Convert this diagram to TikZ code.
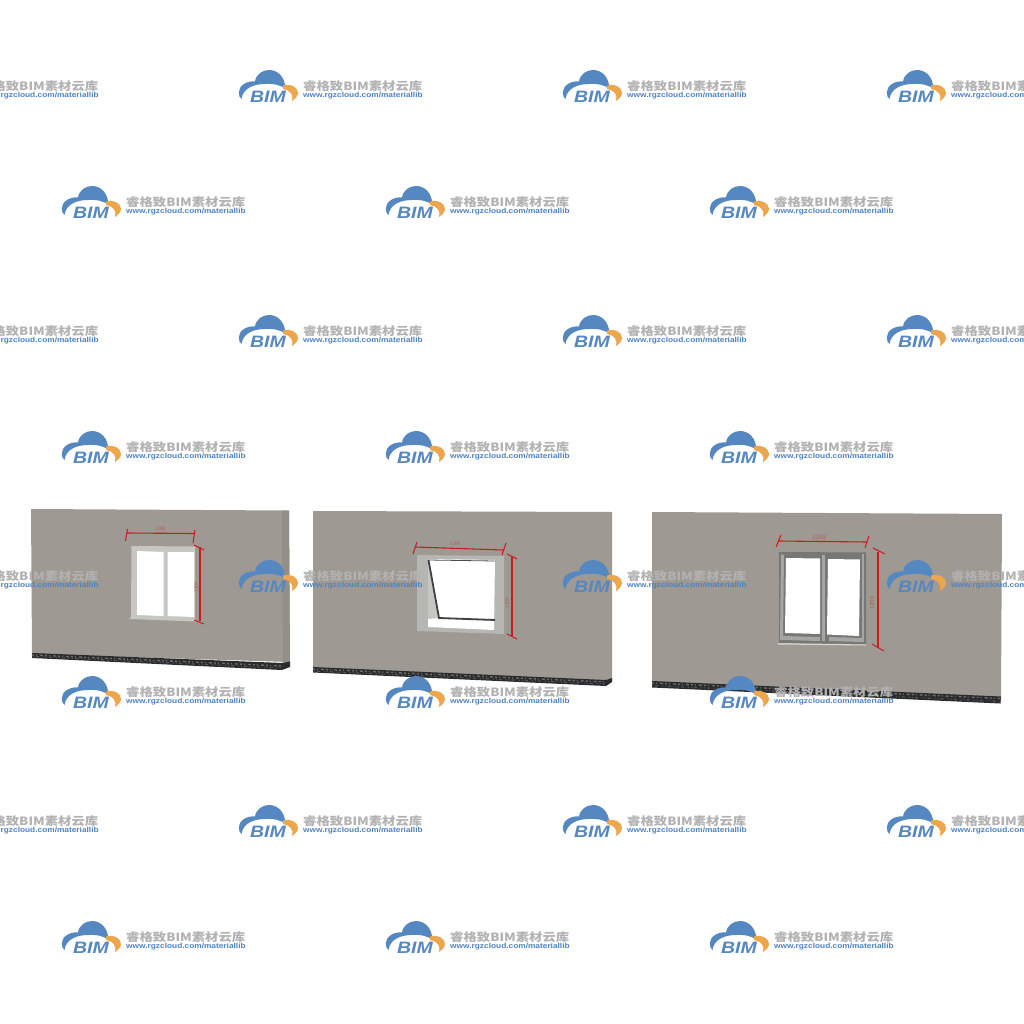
\documentclass[tikz,border=0pt]{standalone}
\usepackage{fontspec}
\setmainfont{Liberation Sans}
\newfontfamily\cjkfont{Noto Sans CJK SC}
\newfontfamily\dimfont{Liberation Serif}
\usetikzlibrary{calc}
\definecolor{wallc}{HTML}{9E9992}
\definecolor{wallside}{HTML}{938E87}
\definecolor{bandc}{HTML}{2A2B2D}
\definecolor{bandl}{HTML}{6A6A6A}
\definecolor{dimred}{HTML}{CC1A1E}
\definecolor{dimtxt}{HTML}{B25A58}
\definecolor{wmblue}{HTML}{5587C0}
\definecolor{wmorange}{HTML}{EBA64E}
\definecolor{wmgray}{HTML}{B2B2B2}
\definecolor{urlblue}{HTML}{4F82C0}
\definecolor{frameone}{HTML}{C6C6C2}
\definecolor{frametwo}{HTML}{B6B6B2}
\definecolor{metal}{HTML}{777775}
\definecolor{metallight}{HTML}{A6A6A4}
\tikzset{
  wall/.style={fill=wallc,draw=none},
  wallend/.style={fill=wallside,draw=none},
  bandfill/.style={fill=bandc,draw=none},
  bandtex/.style={draw=bandl,line width=1.4pt,dash pattern=on 2pt off 2pt on 1pt off 3pt on 3pt off 2pt},
  bandtextwo/.style={draw=bandl!80!black,line width=1.2pt,dash pattern=on 1pt off 2pt on 3pt off 4pt on 1pt off 2pt},
  glass/.style={fill=white,draw=none},
  dimline/.style={draw=dimred,line width=1.1pt},
  dimtick/.style={draw=dimred,line width=1pt},
  dimlabel/.style={text=dimtxt,font=\dimfont\fontsize{5.4}{5.4}\selectfont,inner sep=0pt},
  dimlabelbig/.style={text=dimtxt,font=\dimfont\fontsize{6.6}{6.6}\selectfont,inner sep=0pt},
  wmcjk/.style={text=wmgray,anchor=west,inner sep=0pt,xscale=1.17,font=\cjkfont\bfseries\fontsize{11.4}{12}\selectfont},
  wmurl/.style={text=urlblue,anchor=west,inner sep=0pt,xscale=1.14,font=\bfseries\fontsize{7.3}{8}\selectfont},
  wmbim/.style={text=wmblue,anchor=center,inner sep=0pt,xscale=1.18,font=\bfseries\itshape\fontsize{16.5}{16.5}\selectfont},
}
\newcommand{\wmark}[3]{%
  \begin{scope}[shift={(#1,#2)}]
    \fill[wmblue] (3.5,29) .. controls (0,27) and (-1,18) .. (6,14)
      .. controls (9,12) and (13,11) .. (17,11.5)
      .. controls (18,4) and (25,0) .. (31,0)
      .. controls (40,0) and (47,7) .. (47.5,19)
      .. controls (43,15) and (36,13.5) .. (27,14)
      .. controls (16,14) and (5,18) .. (3.5,29) -- cycle;
    \fill[wmorange] (45,15.5) .. controls (52,13) and (60,17) .. (60,23)
      .. controls (60,26) and (57,29) .. (54,31)
      .. controls (56,25) and (52,20) .. (45,19) -- cycle;
    \node[wmbim] (wmb#3) at (30,27.3) {BIM};
    \node[wmcjk] (wmc#3) at (65,15.8) {睿格致BIM素材云库};
    \node[wmurl] (wmu#3) at (65,25.2) {www.rgzcloud.com/materiallib};
  \end{scope}}
\begin{document}
\begin{tikzpicture}[x=1pt,y=-1pt]
\useasboundingbox (0,0) rectangle (1024,1024);
\clip (0,0) rectangle (1024,1024);
\fill[white] (0,0) rectangle (1024,1024);

% wall 1
\fill[wall] (31,509) -- (289,510.5) -- (290,662) -- (32,654) -- cycle;
\fill[wallend] (282,510.5) -- (289,510.5) -- (290,662) -- (283,664) -- cycle;
\fill[bandfill] (32,653) -- (283,663) -- (290,661.5) -- (290,667) -- (282,670) -- (32,658) -- cycle;
\draw[bandtex] (32,655) -- (283,666);
\draw[bandtextwo] (33,656.5) -- (282,668);
\fill[frameone] (131.5,546) -- (195,546.5) -- (195,621.5) -- (129.5,619) -- (131,617) -- cycle;
\fill[glass] (137,551) -- (163.5,552) -- (163.5,616) -- (137,615) -- cycle;
\fill[glass] (167.5,552) -- (194,552) -- (194,617) -- (167.5,616) -- cycle;
\draw[dimline] (127,533) -- (194,533.5);
\draw[dimtick] (127.5,529) -- (125.5,541);
\draw[dimtick] (195,530) -- (193,543);
\draw[dimline] (200,547) -- (200,621);
\draw[dimtick] (194,545) -- (204,550);
\draw[dimtick] (194,620) -- (204,624);
\node[dimlabel] (la) at (160,529) {1200};
\node[dimlabel,rotate=90] (lb) at (196,587) {1200};

% wall 2
\fill[wall] (313,511) -- (612,512) -- (612,681) -- (313,668) -- cycle;
\fill[bandfill] (313,667) -- (606,680) -- (612,678) -- (612,682) -- (606,686) -- (313,672.5) -- cycle;
\draw[bandtex] (313,669) -- (606,682);
\draw[bandtextwo] (314,671) -- (605,684);
\fill[frametwo] (417,555) -- (504,556) -- (504,634) -- (417,631) -- cycle;
\fill[glass] (428,559) -- (495,560) -- (494,630) -- (428,627) -- cycle;
\fill[frameone] (428,560) -- (439,618) -- (428,619) -- cycle;
\draw[black!70,line width=.8pt] (428,560) -- (495,561);
\draw[black!75,line width=1.8pt] (428.5,560) -- (439,618) -- (495,620);
\draw[dimline] (415,547) -- (503,550);
\draw[dimtick] (417,542) -- (413,554);
\draw[dimtick] (506,543) -- (502,555);
\draw[dimline] (512,557) -- (512,636);
\draw[dimtick] (507,554) -- (517,559);
\draw[dimtick] (507,634) -- (517,639);
\node[dimlabel,rotate=-1] (lc) at (455,544) {1200};
\node[dimlabel,rotate=90] (ld) at (507,603) {1200};

% wall 3
\fill[wall] (652,512) -- (1002,514) -- (1001,698) -- (652,682) -- cycle;
\fill[bandfill] (652,681) -- (1001,696.5) -- (1000.5,703.5) -- (652,687.5) -- cycle;
\draw[bandtex] (652,683) -- (1001,698.5);
\draw[bandtextwo] (652,685.5) -- (1001,701.5);
\fill[wallc!40!white] (778,643) -- (866,644.5) -- (866,645.5) -- (778,644.5) -- cycle;
\fill[metal] (779,552) -- (866,552.5) -- (866,644) -- (779,643) -- cycle;
\fill[metallight] (781,554) -- (784,555) -- (783,640) -- (780,640) -- cycle;
\fill[metallight] (783,636) -- (820,637) -- (820,641) -- (783,640) -- cycle;
\fill[metallight] (822,555) -- (825,555) -- (825,641) -- (822,641) -- cycle;
\fill[metallight] (829,637) -- (862,638) -- (862,642) -- (829,641) -- cycle;
\fill[metallight] (862,554) -- (864,554) -- (864,642) -- (862,642) -- cycle;
\fill[glass] (786,558) -- (820,558.5) -- (820,634) -- (785,633) -- cycle;
\fill[glass] (828,559) -- (860,559.5) -- (859,636) -- (827,634.5) -- cycle;
\draw[dimline] (778,541) -- (867,542);
\draw[dimtick] (781,535) -- (776,547);
\draw[dimtick] (869,536) -- (865,548);
\draw[dimline] (878,552) -- (878,648);
\draw[dimtick] (873,548) -- (885,554);
\draw[dimtick] (872,644) -- (884,651);
\node[dimlabelbig] (le) at (819,537) {1200};
\node[dimlabelbig,rotate=90] (lf) at (872,603) {1200};

% watermarks
\foreach \yy/\rw in {70/a,315/b,560/c,805/d}
  \foreach \xx/\cl in {-86/p,238/q,562/r,886/s}
    {\wmark{\xx}{\yy}{\rw\cl}}
\foreach \yy/\rw in {186/e,431/f,676/g,921/h}
  \foreach \xx/\cl in {61/p,385/q,709/r}
    {\wmark{\xx}{\yy}{\rw\cl}}
\end{tikzpicture}
\end{document}
